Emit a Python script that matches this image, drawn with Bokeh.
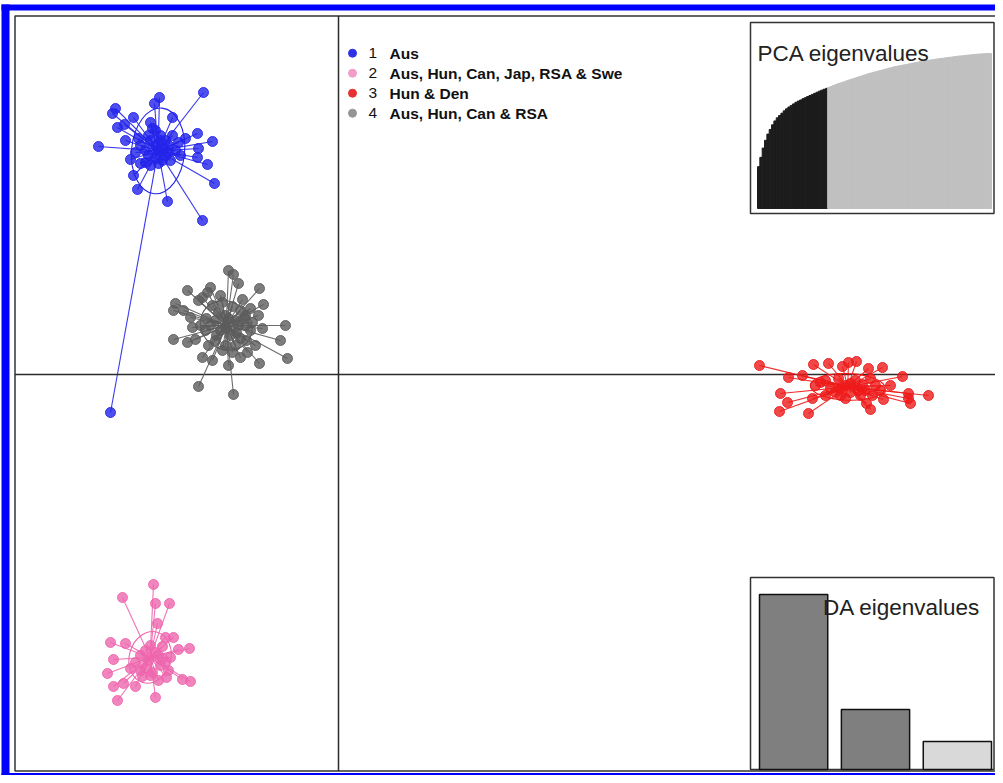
import numpy as np
from bokeh.plotting import figure
from bokeh.models import Range1d
from bokeh.core.properties import value
from bokeh.embed import file_html
from bokeh.resources import INLINE

# ---------------- data ----------------
group_ids = ["1", "2", "3", "4"]
group_labels = ["Aus", "Aus, Hun, Can, Jap, RSA & Swe", "Hun & Den", "Aus, Hun, Can & RSA"]
group_colors = ["#2323EA", "#EE66AE", "#EE1A1A", "#5C5C5C"]
legend_colors = ["#3030E8", "#F29CC8", "#E83030", "#959595"]

ld1_g1 = [-1.35, -1.79, -1.84, -2.23, -2.26, -2.05, -1.66, -2.21, -2.14, -1.41, -1.26, -1.53,
          -2.40, -2.13, -1.40, -1.41, -1.31, -1.24, -2.08, -2.05, -2.01, -1.71, -1.36, -2.28,
          -1.88, -1.86, -1.90, -1.98, -1.93, -2.03, -1.78, -1.70, -1.63, -1.73, -1.83, -1.93,
          -1.68, -1.60, -1.98, -1.88, -1.80, -1.75, -1.58, -2.00,
          -1.83, -1.78, -1.73, -1.88, -1.80, -1.70, -1.90, -1.66, -1.76, -1.83]
ld2_g1 = [2.82, 2.77, 2.71, 2.66, 2.61, 2.57, 2.57, 2.47, 2.50, 2.41, 2.33, 2.36,
          2.28, 2.34, 2.26, 2.17, 2.10, 1.91, 2.15, 1.99, 1.85, 1.73, 1.54, -0.38,
          2.52, 2.46, 2.39, 2.29, 2.24, 2.22, 2.34, 2.29, 2.24, 2.19, 2.16, 2.12,
          2.14, 2.32, 2.11, 2.09, 2.11, 2.26, 2.19, 2.36,
          2.44, 2.39, 2.34, 2.34, 2.24, 2.22, 2.19, 2.39, 2.14, 2.29]

ld1_g2 = [-1.85, -2.16, -1.83, -1.69, -1.81, -2.28, -2.13, -1.73, -1.65, -1.60, -1.49, -2.25,
          -2.31, -2.25, -2.15, -2.03, -2.21, -1.83, -1.72, -1.56, -1.48, -1.68, -1.76, -1.98,
          -1.90, -1.83, -1.78, -1.93, -2.03, -1.86, -1.76, -2.08, -1.88, -1.80, -1.96,
          -1.93, -1.80, -1.73, -1.98, -1.88, -1.70]
ld2_g2 = [-2.10, -2.23, -2.29, -2.29, -2.49, -2.68, -2.69, -2.63, -2.63, -2.75, -2.74, -2.85,
          -2.99, -3.12, -3.09, -3.12, -3.26, -3.23, -3.03, -3.05, -3.07, -2.83, -2.72, -2.81,
          -2.86, -2.78, -2.91, -2.94, -2.88, -2.98, -2.84, -2.94, -2.71, -3.06, -3.02,
          -2.76, -2.81, -2.88, -2.96, -3.01, -2.96]

ld1_g3 = [4.21, 4.50, 4.64, 4.75, 4.90, 5.04, 5.10, 5.18, 5.30, 5.44, 5.64, 4.42,
          4.49, 4.41, 4.70, 4.74, 5.02, 5.32, 5.28, 5.45, 5.70, 5.72, 5.90, 5.70,
          4.82, 4.92, 5.07, 5.17, 5.27, 5.37, 5.00, 5.12, 5.22, 4.87, 4.77, 5.32,
          5.42, 5.07, 4.97, 5.52, 4.87, 5.12, 5.24, 5.02, 5.20, 5.34]
ld2_g3 = [0.09, -0.03, -0.01, 0.10, 0.11, 0.08, 0.12, 0.13, 0.06, 0.07, -0.02, -0.19,
          -0.28, -0.37, -0.39, -0.24, -0.21, -0.35, -0.29, -0.25, -0.24, -0.29, -0.21, -0.19,
          -0.08, -0.14, -0.11, -0.06, -0.16, -0.11, -0.04, -0.18, -0.21, -0.21, -0.11, -0.04,
          -0.16, -0.24, -0.18, -0.11, -0.06, -0.09, -0.10, -0.14, -0.16, -0.21]

ld1_g4 = [-1.10, -1.05, -1.00, -1.51, -1.28, -1.31, -1.36, -1.40, -1.18, -0.79, -0.75, -0.80,
          -1.63, -1.65, -1.55, -1.48, -1.46, -0.53, -0.76, -1.65, -1.51, -1.43, -0.58, -0.51,
          -0.79, -1.36, -1.26, -1.10, -0.98, -0.91, -1.40, -1.05, -0.96, -0.88, -1.23, -1.13,
          -1.03, -0.93, -1.18, -1.08, -0.98, -1.28, -0.88, -1.03, -1.13, -1.23, -0.93, -1.33,
          -0.98, -1.26, -1.16, -1.06, -0.94, -0.86, -1.32, -1.20, -1.10, -1.00, -1.12, -1.22,
          -1.02, -0.92, -1.16, -1.30, -1.06, -0.83, -1.38]
ld2_g4 = [1.04, 1.00, 0.91, 0.84, 0.87, 0.82, 0.77, 0.74, 0.79, 0.86, 0.70, 0.59,
          0.71, 0.64, 0.64, 0.57, 0.47, 0.49, 0.46, 0.35, 0.32, 0.35, 0.34, 0.16,
          0.11, 0.17, 0.14, 0.09, 0.17, 0.22, -0.12, -0.20, 0.75, 0.66, 0.54, 0.59,
          0.54, 0.49, 0.44, 0.39, 0.36, 0.49, 0.44, 0.29, 0.29, 0.34, 0.59, 0.44,
          0.64, 0.69, 0.72, 0.68, 0.56, 0.52, 0.56, 0.62, 0.56, 0.49, 0.46, 0.39,
          0.42, 0.34, 0.24, 0.29, 0.22, 0.29, 0.49]

# cumulative PCA variance (%) ; first n retained
pca_cumvar = [27, 33, 39, 44, 48, 51, 54, 56.5, 58.5, 60,
              61.5, 63, 64.3, 65.5, 66.5, 67.5, 68.5, 69.3, 70, 70.8,
              71.5, 72.2, 72.9, 73.6, 74.3, 75, 75.7, 76.3, 76.9, 77.5,
              78.1, 78.7, 79.3, 79.9, 80.5, 81, 81.5, 82, 82.5, 83,
              83.5, 84, 84.5, 85, 85.5, 86, 86.5, 87, 87.4, 87.8,
              88.2, 88.6, 89, 89.4, 89.8, 90.2, 90.6, 91, 91.4, 91.7,
              92, 92.3, 92.6, 92.9, 93.2, 93.5, 93.8, 94.1, 94.4, 94.7,
              95, 95.2, 95.4, 95.7, 95.9, 96.1, 96.4, 96.6, 96.8, 97,
              97.2, 97.4, 97.6, 97.8, 98, 98.2, 98.4, 98.5, 98.7, 98.9,
              99, 99.2, 99.3, 99.5, 99.6, 99.7, 99.8, 99.9, 100, 100]
n_pca_retained = 30
da_eig = [1750, 600, 280]
n_da_shown = 2

groups_ld1 = [ld1_g1, ld1_g2, ld1_g3, ld1_g4]
groups_ld2 = [ld2_g1, ld2_g2, ld2_g3, ld2_g4]

# ---------------- layout ----------------
W, H = 995, 775
FONT = value("Liberation Sans")
CELLIPSE = 1.0


def lin(v0, p0, v1, p1):
    k = (v1 - v0) / (p1 - p0)
    return lambda p: v0 + (p - p0) * k


def xr(f):
    return Range1d(f(0), f(W))


def yr(f):
    return Range1d(f(H), f(0))


fx = lin(0, 338, 1, 438)
fy = lin(0, 374, 1, 274)

p = figure(width=W, height=H, x_range=xr(fx), y_range=yr(fy),
           output_backend="svg", toolbar_location=None,
           x_axis_location=None, y_axis_location=None, min_border=0,
           outline_line_color=None, background_fill_color="white",
           border_fill_color="white")
p.xgrid.visible = False
p.ygrid.visible = False

# blue outer border
p.quad(left=[fx(1), fx(1), fx(1)], right=[fx(9), fx(1020), fx(1020)],
       top=[fy(4), fy(4), fy(772.5)], bottom=[fy(775), fy(10), fy(775)],
       fill_color="#0000FF", line_color=None)
# black plot frame
FL, FT, FB = 14.5, 15.5, 770.5
p.quad(left=fx(FL), right=fx(1020), top=fy(FT), bottom=fy(FB),
       fill_color=None, line_color="#333333", line_width=1.5)

# axes through origin
p.segment(x0=[0, fx(FL)], y0=[fy(FT), 0], x1=[0, fx(1020)], y1=[fy(FB), 0],
          line_color="#2b2b2b", line_width=1.5)

# groups
for xs, ys, col in zip(groups_ld1, groups_ld2, group_colors):
    xs = np.array(xs)
    ys = np.array(ys)
    cx, cy = xs.mean(), ys.mean()
    p.segment(x0=[cx] * len(xs), y0=[cy] * len(ys), x1=xs, y1=ys,
              line_color=col, line_width=1.1, line_alpha=0.9)
    cov = np.cov(xs, ys, bias=True)
    evals, evecs = np.linalg.eigh(cov)
    ang = float(np.arctan2(evecs[1, 1], evecs[0, 1]))
    p.ellipse(x=[cx], y=[cy], width=[2 * CELLIPSE * np.sqrt(evals[1])],
              height=[2 * CELLIPSE * np.sqrt(evals[0])], angle=[ang],
              fill_color=None, line_color=col, line_width=1.1)
    p.scatter(xs, ys, size=10, fill_color=col, fill_alpha=0.8,
              line_color=col, line_alpha=0.9, line_width=1)

# legend
for i, (gid, lab, col) in enumerate(zip(group_ids, group_labels, legend_colors)):
    yy = fy(52.7 + 20 * i)
    p.scatter([fx(352)], [yy], size=8, fill_color=col, line_color=col)
    p.text([fx(368)], [yy], text=[gid], text_align="left", text_baseline="middle",
           text_font=FONT, text_font_size="15.5px", text_color="#111111")
    p.text([fx(389)], [yy], text=[lab], text_align="left", text_baseline="middle",
           text_font=FONT, text_font_size="15.5px", text_font_style="bold",
           text_color="#111111")

# ---------------- insets ----------------
fxp = lin(0, 757, len(pca_cumvar), 991)
fyp = lin(0, 208, max(pca_cumvar), 53)
fxd = lin(0.2, 759, 3.6, 991)
fyd = lin(0, 769, max(da_eig), 594)
p.extra_x_ranges = {"pca": xr(fxp), "da": xr(fxd)}
p.extra_y_ranges = {"pca": yr(fyp), "da": yr(fyd)}

BOX_R = 993.5
p.quad(left=fxp(750), right=fxp(BOX_R), top=fyp(22), bottom=fyp(213),
       fill_color="white", line_color="#333333", line_width=1.5,
       x_range_name="pca", y_range_name="pca")
idx = np.arange(len(pca_cumvar))
pca_cols = ["#1c1c1c" if i < n_pca_retained else "#c0c0c0" for i in idx]
p.quad(left=idx, right=idx + 1, bottom=0, top=pca_cumvar, fill_color=pca_cols,
       line_color=pca_cols, line_width=1.0, x_range_name="pca", y_range_name="pca")
p.text([fx(757)], [fy(53)], text=["PCA eigenvalues"], text_align="left",
       text_baseline="alphabetic", text_font=FONT, text_font_size="22.5px",
       text_color="#222222")

p.quad(left=fxd(750), right=fxd(BOX_R), top=fyd(577), bottom=fyd(769),
       fill_color="white", line_color="#333333", line_width=1.5,
       x_range_name="da", y_range_name="da")
da_x = [0.7 + 1.2 * i for i in range(len(da_eig))]
da_cols = ["#7f7f7f" if i < n_da_shown else "#d9d9d9" for i in range(len(da_eig))]
p.vbar(x=da_x, width=1.0, bottom=0, top=da_eig, fill_color=da_cols,
       line_color="#111111", line_width=1.5, x_range_name="da", y_range_name="da")
p.text([fx(980)], [fy(607)], text=["DA eigenvalues"], text_align="right",
       text_baseline="alphabetic", text_font=FONT, text_font_size="22.5px",
       text_color="#222222")

open("out.html", "w").write(file_html(p, INLINE))
